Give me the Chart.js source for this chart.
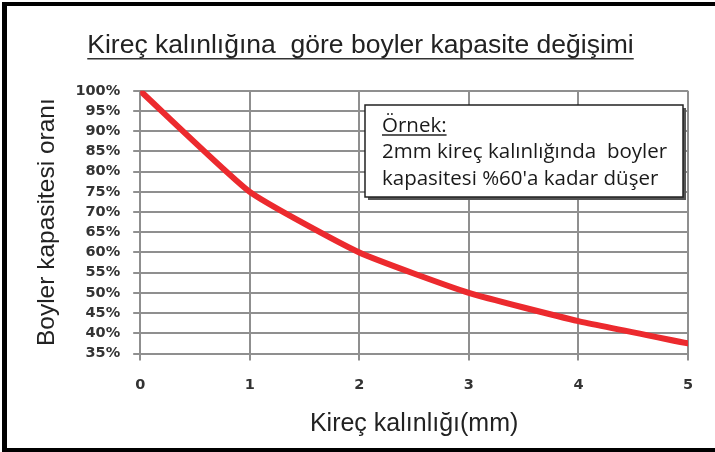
<!DOCTYPE html>
<html>
<head>
<meta charset="utf-8">
<script src="https://cdn.jsdelivr.net/npm/chart.js@4"></script>
<style>
    body { margin: 0; background: #fff; overflow: hidden; }
    #frame {
        position: absolute; left: 2px; top: 2px; width: 713px; height: 450px;
        box-sizing: border-box;
        border-left: 5px solid #000; border-top: 4px solid #000; border-bottom: 4px solid #000;
    }
    #wrap { position: absolute; left: 0; top: 0; width: 715px; height: 452px; }
</style>
</head>
<body>
<div id="frame"></div>
<div id="wrap"><canvas id="line-chart"></canvas></div>
<script>
const titleText = 'Kireç kalınlığına  göre boyler kapasite değişimi';
const xTitle = 'Kireç kalınlığı(mm)';
const yTitle = 'Boyler kapasitesi oranı';
const thickness = [0, 1, 2, 3, 4, 5];
const capacity = [100, 75, 60, 50, 43, 37.5];
const noteLines = ['Örnek:', '2mm kireç kalınlığında  boyler', 'kapasitesi %60\'a kadar düşer'];

// underline under the chart title
const titleUnderline = {
    id: 'titleUnderline',
    afterDraw(chart) {
        const tb = chart.titleBlock;
        if (!tb) return;
        const ctx = chart.ctx;
        ctx.save();
        ctx.font = tb.options.font.size + 'px ' + tb.options.font.family;
        const w = ctx.measureText(titleText).width;
        const cx = (tb.left + tb.right) / 2;
        const y = tb.top + tb.height - tb.options.padding.bottom - 3;
        ctx.strokeStyle = '#333';
        ctx.lineWidth = 1.5;
        ctx.beginPath();
        ctx.moveTo(cx - w / 2, y);
        ctx.lineTo(cx + w / 2, y);
        ctx.stroke();
        ctx.restore();
    }
};

// the "Örnek" note box
const noteBox = {
    id: 'noteBox',
    afterDraw(chart) {
        const ctx = chart.ctx;
        const x0 = 365, y0 = 105, x1 = 683, y1 = 197;
        ctx.save();
        ctx.fillStyle = '#555';
        ctx.fillRect(x0 + 3, y0 + 3, x1 - x0, y1 - y0);
        ctx.fillStyle = '#fff';
        ctx.fillRect(x0, y0, x1 - x0, y1 - y0);
        ctx.strokeStyle = '#222';
        ctx.lineWidth = 1.5;
        ctx.strokeRect(x0, y0, x1 - x0, y1 - y0);
        ctx.fillStyle = '#1a1a1a';
        ctx.font = '20.5px "Open Sans"';
        ctx.textBaseline = 'alphabetic';
        const tx = 382;
        ctx.fillText(noteLines[0], tx, 132);
        const w = ctx.measureText(noteLines[0]).width;
        ctx.lineWidth = 1.3;
        ctx.beginPath();
        ctx.moveTo(tx, 135);
        ctx.lineTo(tx + w, 135);
        ctx.stroke();
        ctx.fillText(noteLines[1], tx, 158);
        ctx.fillText(noteLines[2], tx, 185);
        ctx.restore();
    }
};

const tickFont = {family: 'DejaVu Sans', size: 14.5, weight: 'bold', lineHeight: 1};

const config = {
    type: 'line',
    data: {
        datasets: [{
            data: thickness.map((t, i) => ({x: t, y: capacity[i]})),
            borderColor: '#ec2a2e',
            borderWidth: 6,
            pointRadius: 0,
            tension: 0.15,
            borderCapStyle: 'round'
        }]
    },
    options: {
        responsive: false,
        animation: false,
        layout: {padding: {left: 33, right: 27, top: 0, bottom: 13}},
        plugins: {
            legend: {display: false},
            tooltip: {enabled: false},
            title: {
                display: true,
                text: titleText,
                color: '#222',
                font: {family: 'Liberation Sans', size: 26.5, weight: 'normal'},
                padding: {top: 30, bottom: 29}
            }
        },
        scales: {
            x: {
                type: 'linear',
                min: 0, max: 5,
                ticks: {stepSize: 1, color: '#333', padding: 17, font: tickFont},
                grid: {color: '#8f8f8f', lineWidth: 2, tickLength: 7},
                border: {color: '#8f8f8f', width: 2},
                title: {display: true, text: xTitle, color: '#222', font: {family: 'Liberation Sans', size: 25}, padding: {top: 0, bottom: 0}}
            },
            y: {
                min: 35, max: 100,
                ticks: {stepSize: 5, autoSkip: false, color: '#333', padding: 13, font: tickFont, callback: v => v + '%'},
                grid: {color: '#8f8f8f', lineWidth: 2, tickLength: 7},
                border: {color: '#8f8f8f', width: 2},
                title: {display: true, text: yTitle, color: '#222', font: {family: 'Liberation Sans', size: 24.5}, padding: {top: 0, bottom: 0}}
            }
        }
    },
    plugins: [titleUnderline, noteBox]
};

const canvas = document.getElementById('line-chart');
canvas.width = 715;
canvas.height = 452;
new Chart(canvas, config);
</script>
</body>
</html>
